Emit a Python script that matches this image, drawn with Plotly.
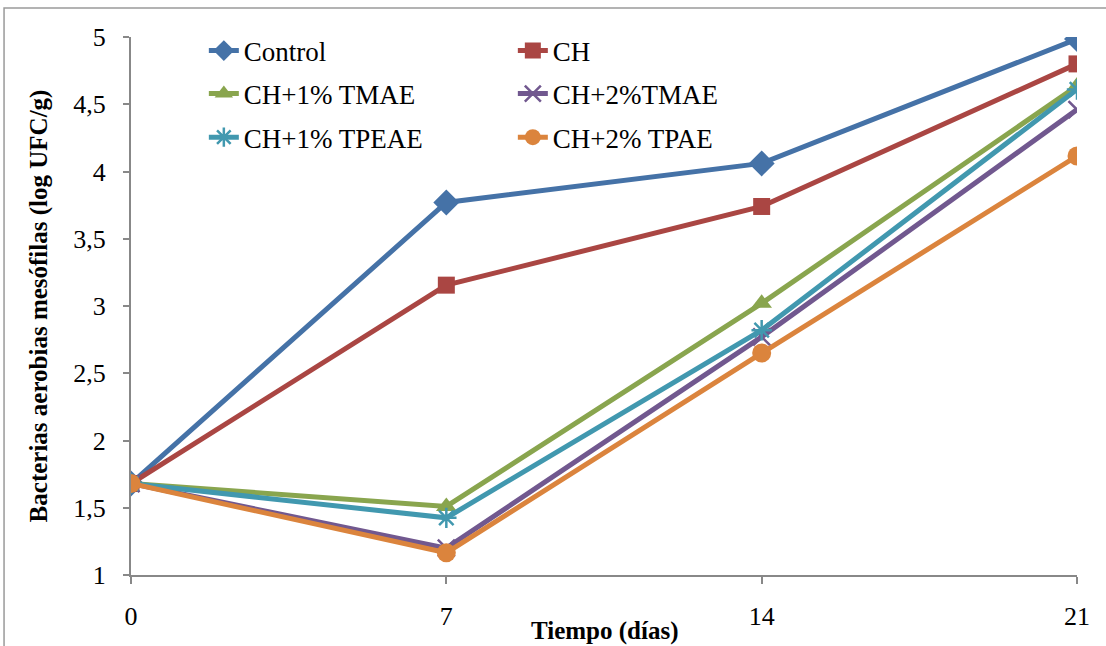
import plotly.graph_objects as go

# Sampling days
dias = [0, 7, 14, 21]

# Mesophilic aerobic counts (log UFC/g) per treatment
control = [1.68, 3.77, 4.06, 4.985]
ch = [1.68, 3.155, 3.74, 4.80]
ch_1_tmae = [1.68, 1.51, 3.02, 4.635]
ch_2_tmae = [1.68, 1.20, 2.77, 4.46]
ch_1_tpeae = [1.68, 1.425, 2.82, 4.61]
ch_2_tpae = [1.68, 1.165, 2.65, 4.115]

series = [
    ("Control", control, "#4572A7", "diamond", 20, "legend"),
    ("CH", ch, "#AA4643", "square", 17, "legend"),
    ("CH+1% TMAE", ch_1_tmae, "#89A54E", "triangle-up", 18, "legend2"),
    ("CH+2%TMAE", ch_2_tmae, "#71588F", "x-thin-open", 17, "legend2"),
    ("CH+1% TPEAE", ch_1_tpeae, "#4198AF", "asterisk-open", 17, "legend3"),
    ("CH+2% TPAE", ch_2_tpae, "#DB843D", "circle", 19, "legend3"),
]

fig = go.Figure()
for name, vals, color, symbol, size, leg in series:
    thin = symbol.endswith("-open")
    fig.add_trace(go.Scatter(
        x=dias, y=vals, name=name, mode="lines+markers",
        line=dict(color=color, width=5),
        marker=dict(symbol=symbol, size=size, color=color,
                    line=dict(color=color, width=2.5 if thin else 0)),
        legend=leg,
    ))

serif = "Liberation Serif, Times New Roman, serif"
axis_gray = "#888888"

leg_common = dict(orientation="h", entrywidth=264, xanchor="left", yanchor="middle",
                  font=dict(family=serif, size=27, color="black"),
                  bgcolor="rgba(0,0,0,0)", itemwidth=30)

fig.update_layout(
    width=1106, height=646,
    margin=dict(l=131, r=29, t=37, b=71),
    paper_bgcolor="white", plot_bgcolor="white",
    separators=",.",
    font=dict(family=serif, color="black"),
    legend=dict(x=0.077, y=0.974, **leg_common),
    legend2=dict(x=0.077, y=0.894, **leg_common),
    legend3=dict(x=0.077, y=0.813, **leg_common),
    xaxis=dict(
        range=[0, 21], tickvals=dias, ticktext=[str(d) for d in dias],
        showline=True, linecolor=axis_gray, linewidth=2,
        ticks="outside", ticklen=7, tickcolor=axis_gray, tickwidth=2,
        ticklabelstandoff=10, automargin=False,
        tickfont=dict(family=serif, size=26, color="black"),
        showgrid=False, zeroline=False,
    ),
    yaxis=dict(
        range=[1, 5], dtick=0.5, tickformat=".1~f",
        showline=True, linecolor=axis_gray, linewidth=2,
        ticks="outside", ticklen=6, tickcolor=axis_gray, tickwidth=2,
        ticklabelstandoff=12, automargin=False,
        tickfont=dict(family=serif, size=26, color="black"),
        showgrid=False, zeroline=False,
        title=dict(text="<b>Bacterias aerobias mesófilas (log UFC/g)</b>", standoff=19,
                   font=dict(family=serif, size=25, color="black")),
    ),
    annotations=[dict(text="<b>Tiempo (días)</b>", xref="paper", yref="paper",
                      x=0.5, y=-0.104, xanchor="center", yanchor="middle",
                      showarrow=False, font=dict(family=serif, size=25, color="black"))],
    shapes=[dict(type="rect", xref="paper", yref="paper",
                 x0=-0.1342, x1=1.04, y0=-0.2, y1=1.0539,
                 line=dict(color="#9a9a9a", width=1.5), fillcolor="rgba(0,0,0,0)",
                 layer="below")],
)

fig.write_html("out.html")
